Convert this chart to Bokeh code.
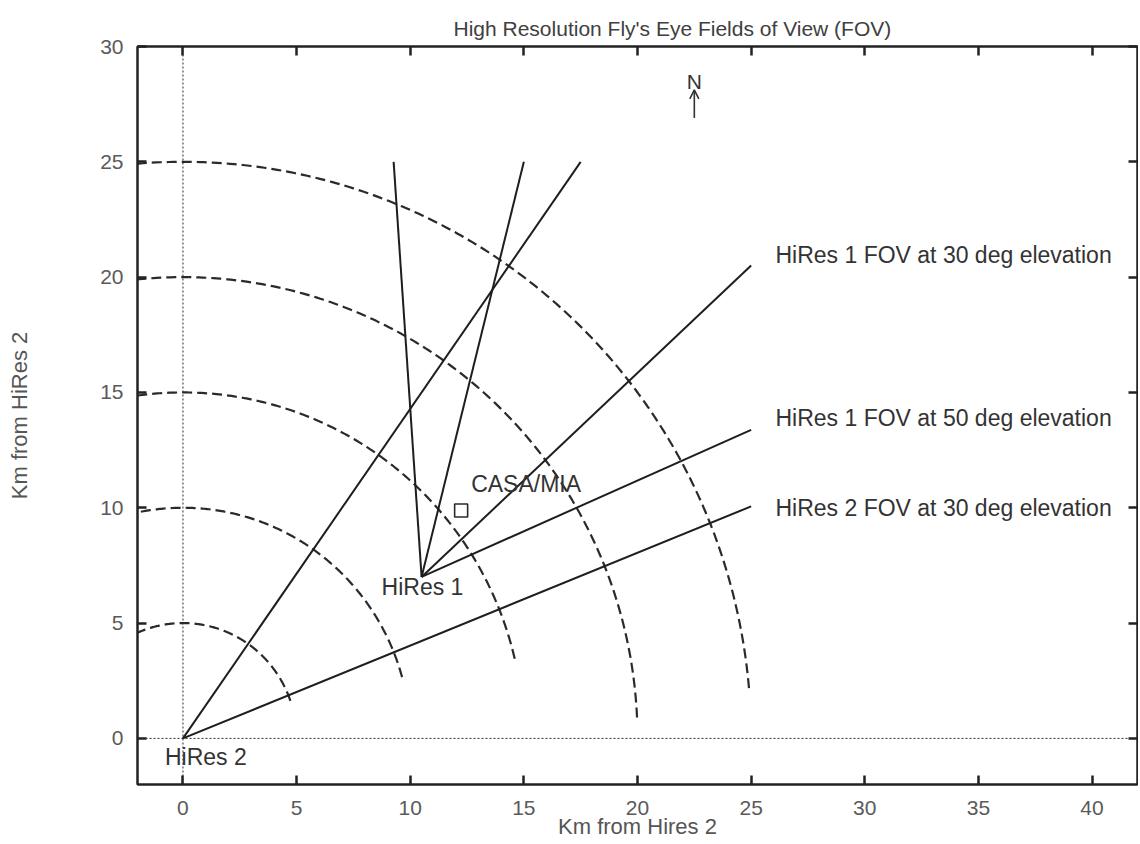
import numpy as np
from bokeh.plotting import figure
from bokeh.models import (Range1d, LinearAxis, FixedTicker, Span, Arrow, OpenHead,
                          ColumnDataSource)
from bokeh.embed import file_html
from bokeh.resources import INLINE
from bokeh.core.properties import value

# ---------------- data ----------------
x_ticks = [0, 5, 10, 15, 20, 25, 30, 35, 40]
y_ticks = [0, 5, 10, 15, 20, 25, 30]

# range rings around HiRes 2 (km) and angle (deg) where each ring stops
ring_radius = [5, 10, 15, 20, 25]
ring_end_deg = [19.0, 15.4, 13.3, 2.6, 5.0]

# detector sites
hires2_x, hires2_y = 0.0, 0.0
hires1_x, hires1_y = 10.5, 7.0

# far ends of FOV boundary rays
hires2_ray_end_x = [17.5, 25.0]
hires2_ray_end_y = [25.0, 10.06]
hires1_ray_end_x = [9.27, 15.0, 25.0, 25.0]
hires1_ray_end_y = [25.0, 25.0, 20.5, 13.38]

casa_x, casa_y = [12.24], [9.88]

label_text = ["HiRes 1 FOV at 30 deg elevation", "HiRes 1 FOV at 50 deg elevation",
              "HiRes 2 FOV at 30 deg elevation", "HiRes 2", "HiRes 1", "CASA/MIA"]
label_x = [26.07, 26.07, 26.07, -0.79, 8.74, 12.68]
label_y = [20.94, 13.9, 10.0, -0.82, 6.55, 11.05]

north_x = 22.5
north_label_y = 28.5
north_arrow_y = [26.9, 28.12]

x_title = "Km from Hires 2"
y_title = "Km from HiRes 2"

# ---------------- figure ----------------
FONT = "Liberation Sans"

p = figure(frame_width=1000, frame_height=738,
           x_range=Range1d(-2, 42), y_range=Range1d(-2, 30),
           output_backend="svg", toolbar_location=None,
           title="High Resolution Fly's Eye Fields of View (FOV)",
           min_border_left=137, min_border_top=46, min_border_right=1,
           min_border_bottom=0)
p.background_fill_color = "white"
p.border_fill_color = "white"
p.outline_line_color = "#222222"
p.outline_line_width = 2
p.grid.visible = False

p.title.align = "left"
p.title.offset = 316
p.title.text_font = FONT
p.title.text_font_size = "21px"
p.title.text_font_style = "normal"
p.title.text_color = "#404040"
p.title.standoff = 13

def style_axis(ax, labels=True):
    ax.major_tick_in = 9
    ax.major_tick_out = 0
    ax.minor_tick_in = 0
    ax.minor_tick_out = 0
    ax.major_tick_line_width = 2.5
    ax.major_tick_line_color = "#222222"
    ax.axis_line_color = "#222222"
    ax.axis_line_width = 2
    ax.major_label_text_font = FONT
    ax.major_label_text_font_size = "21px"
    ax.major_label_text_color = "#5a5a5a"
    ax.axis_label_text_font = FONT
    ax.axis_label_text_font_size = "22px"
    ax.axis_label_text_font_style = "normal"
    ax.axis_label_text_color = "#555555"
    if not labels:
        ax.major_label_text_font_size = "1px"
        ax.major_label_text_alpha = 0
        ax.major_label_standoff = 0

p.xaxis.ticker = FixedTicker(ticks=x_ticks)
p.yaxis.ticker = FixedTicker(ticks=y_ticks)
style_axis(p.xaxis[0])
style_axis(p.yaxis[0])
p.xaxis.axis_label = x_title
p.yaxis.axis_label = y_title
p.xaxis.major_label_standoff = 16
p.xaxis.axis_label_standoff = -4
p.yaxis.major_label_standoff = 14
p.yaxis.axis_label_standoff = 65

top_ax = LinearAxis(ticker=FixedTicker(ticks=x_ticks))
style_axis(top_ax, labels=False)
p.add_layout(top_ax, "above")
right_ax = LinearAxis(ticker=FixedTicker(ticks=y_ticks))
style_axis(right_ax, labels=False)
p.add_layout(right_ax, "right")

# zero axes (dotted)
for dim in ("width", "height"):
    p.add_layout(Span(location=0, dimension=dim, line_color="#2a2a2a",
                      line_width=1, line_dash="2 2"))

# range rings
ring_xs, ring_ys = [], []
for r, a0 in zip(ring_radius, ring_end_deg):
    th = np.radians(np.linspace(a0, 180, 400))
    ring_xs.append(list(r * np.cos(th)))
    ring_ys.append(list(r * np.sin(th)))
p.multi_line(ring_xs, ring_ys, line_color="#2a2a2a", line_width=2.2, line_dash="10 5")

# FOV rays
ray_xs = [[hires2_x, ex] for ex in hires2_ray_end_x] + [[hires1_x, ex] for ex in hires1_ray_end_x]
ray_ys = [[hires2_y, ey] for ey in hires2_ray_end_y] + [[hires1_y, ey] for ey in hires1_ray_end_y]
p.multi_line(ray_xs, ray_ys, line_color="#1e1e1e", line_width=2)

# CASA/MIA marker
p.scatter(casa_x, casa_y, marker="square", size=13, fill_color=None,
          line_color="#2a2a2a", line_width=1.6)

# labels
src = ColumnDataSource(dict(x=label_x, y=label_y, t=label_text))
p.text(x="x", y="y", text="t", source=src, text_font=value(FONT),
       text_font_size="23px", text_color="#333333", text_baseline="middle",
       text_align="left")

# north marker
p.text(x=[north_x], y=[north_label_y], text=["N"], text_font=value(FONT),
       text_font_size="21px", text_color="#333333", text_baseline="middle",
       text_align="center")
p.add_layout(Arrow(end=OpenHead(size=9, line_width=1.6, line_color="#333333"),
                   x_start=north_x, y_start=north_arrow_y[0],
                   x_end=north_x, y_end=north_arrow_y[1],
                   line_width=1.6, line_color="#333333"))

open("out.html", "w").write(file_html(p, INLINE))
